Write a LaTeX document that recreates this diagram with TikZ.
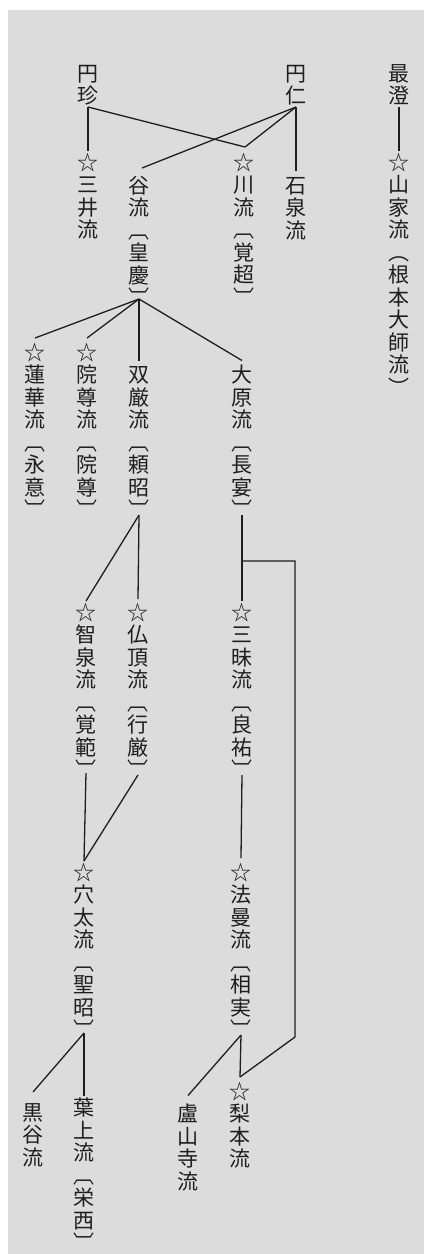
\documentclass[tikz,border=0pt]{standalone}
\usepackage{fontspec}
\newfontfamily\jp{Noto Sans CJK JP}
\definecolor{bg}{HTML}{DCDCDC}
\definecolor{ink}{HTML}{1E1E1E}
\newcommand\vcell[1]{\hbox to 22.5pt{\hss\vrule height 19.25pt depth 3.25pt width 0pt\relax#1\hss}}
\def\vloop#1{\ifx#1\relax\else\vcell{#1}\expandafter\vloop\fi}
\newcommand\vtext[1]{\vbox{\baselineskip=22.5pt\lineskiplimit=-100pt\lineskip=0pt\vloop#1\relax}}
\tikzset{
  lbl/.style={inner sep=0pt, outer sep=0pt, anchor=north, text=ink,
    font=\jp\fontsize{21pt}{22.5pt}\selectfont},
  conn/.style={draw=ink, line width=1.3pt}
}
\begin{document}
\begin{tikzpicture}[x=1pt,y=-1pt]
\useasboundingbox (0,0) rectangle (424,1254);
\fill[bg] (8,10) rectangle (424,1254);
% top row
\node[lbl] (enchin) at (88,62) {\vtext{円珍}};
\node[lbl] (ennin) at (296,62) {\vtext{円仁}};
\node[lbl] (saicho) at (399,62) {\vtext{最澄}};
% row B
\node[lbl] (sanjo) at (88,151) {\vtext{☆三井流}};
\node[lbl] (tani) at (139,174) {\vtext{谷流︹皇慶︺}};
\node[lbl] (kawa) at (244,151) {\vtext{☆川流︹覚超︺}};
\node[lbl] (sekisen) at (296,174) {\vtext{石泉流}};
\node[lbl] (sange) at (399,151) {\vtext{☆山家流︵根本大師流︶}};
% row C
\node[lbl] (renge) at (35,341) {\vtext{☆蓮華流︹永意︺}};
\node[lbl] (inson) at (87,341) {\vtext{☆院尊流︹院尊︺}};
\node[lbl] (sogon) at (139,363.5) {\vtext{双厳流︹頼昭︺}};
\node[lbl] (ohara) at (242,363.5) {\vtext{大原流︹長宴︺}};
% row D
\node[lbl] (chisen) at (86,601) {\vtext{☆智泉流︹覚範︺}};
\node[lbl] (butcho) at (138,601) {\vtext{☆仏頂流︹行厳︺}};
\node[lbl] (sanmai) at (242,601) {\vtext{☆三昧流︹良祐︺}};
% row E
\node[lbl] (anou) at (84,861) {\vtext{☆穴太流︹聖昭︺}};
\node[lbl] (homan) at (241,861) {\vtext{☆法曼流︹相実︺}};
% row F
\node[lbl] (kurodani) at (33,1101) {\vtext{黒谷流}};
\node[lbl] (yojo) at (84,1096.5) {\vtext{葉上流︹栄西︺}};
\node[lbl] (rozan) at (188,1102.5) {\vtext{盧山寺流}};
\node[lbl] (nashimoto) at (240,1080) {\vtext{☆梨本流}};
% connectors
\draw[conn] (enchin.south) -- (sanjo.north);
\draw[conn] (enchin.south) -- ([xshift=1pt,yshift=4pt]kawa.north);
\draw[conn] (ennin.south) -- ([xshift=1pt,yshift=4pt]kawa.north);
\draw[conn] (ennin.south) -- ([yshift=3pt]sekisen.north);
\draw[conn] (ennin.south) -- ([xshift=3pt,yshift=6pt]tani.north);
\draw[conn] (saicho.south) -- (sange.north);
\coordinate (koukei) at ([yshift=10pt]tani.south);
\draw[conn] (koukei) -- ([yshift=3pt]renge.north);
\draw[conn] (koukei) -- ([yshift=3pt]inson.north);
\draw[conn] (koukei) -- ([yshift=3pt]sogon.north);
\draw[conn] (koukei) -- ([yshift=3pt]ohara.north);
\draw[conn] ([yshift=6pt]sogon.south) -- (chisen.north);
\draw[conn] ([yshift=6pt]sogon.south) -- ([yshift=2pt]butcho.north);
\draw[conn] ([yshift=6pt]ohara.south) -- (sanmai.north);
\coordinate (br1) at (242,561);
\coordinate (br2) at (295,561);
\coordinate (br3) at (295,1037);
\draw[conn] (br1) -- (br2) -- (br3) -- ([yshift=3pt]nashimoto.north);
\draw[conn] ([yshift=8pt]chisen.south) -- (anou.north);
\draw[conn] ([yshift=6pt]butcho.south) -- (anou.north);
\draw[conn] ([yshift=6pt]sanmai.south) -- ([yshift=3pt]homan.north);
\draw[conn] ([yshift=8pt]anou.south) -- ([yshift=1pt]yojo.north);
\draw[conn] ([yshift=8pt]anou.south) -- ([yshift=9pt]kurodani.north);
\draw[conn] ([yshift=6pt]homan.south) -- ([yshift=3pt]nashimoto.north);
\draw[conn] ([yshift=6pt]homan.south) -- ([yshift=7pt]rozan.north);
\end{tikzpicture}
\end{document}
